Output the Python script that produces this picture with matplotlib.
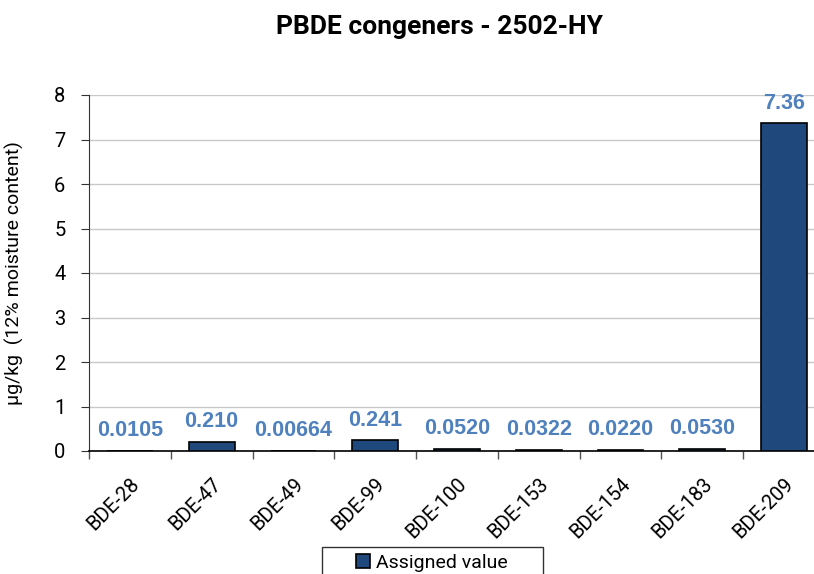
import matplotlib
matplotlib.use("Agg")
import matplotlib.pyplot as plt
import numpy as np
from matplotlib.ticker import FixedLocator
from matplotlib.patches import Rectangle

categories = ["BDE-28", "BDE-47", "BDE-49", "BDE-99", "BDE-100", "BDE-153", "BDE-154", "BDE-183", "BDE-209"]
values = [0.0105, 0.210, 0.00664, 0.241, 0.0520, 0.0322, 0.0220, 0.0530, 7.36]
labels = ["0.0105", "0.210", "0.00664", "0.241", "0.0520", "0.0322", "0.0220", "0.0530", "7.36"]
yticks = [0, 1, 2, 3, 4, 5, 6, 7, 8]

plt.rcParams['font.family'] = ['Roboto', 'DejaVu Sans']

fig = plt.figure(figsize=(8.14, 5.74), dpi=100)
ax = fig.add_axes([89/814, 123/574, 736/814, 356/574])

x = np.arange(len(categories))
bars = ax.bar(x, values, width=0.56, color="#1F497D", edgecolor="black", linewidth=1.2, zorder=3,
              label="Assigned value")

for xi, v, lab in zip(x, values, labels):
    ax.annotate(lab, (xi, v), xytext=(0, 7), textcoords="offset points", ha="center", va="bottom",
                color="#4F81BD", fontsize=15.5, fontweight="bold", family=["Liberation Sans", "DejaVu Sans"],
                zorder=4)

ax.set_xlim(-0.5, len(categories) - 0.5)
ax.set_ylim(0, 8)
ax.set_yticks(yticks)
ax.set_yticklabels([str(t) for t in yticks], fontsize=14.5)
ax.yaxis.grid(True, color="#c8c8c8", linewidth=1, zorder=0)
ax.set_axisbelow(True)

ax.set_xticks(x)
ax.set_xticklabels(categories, rotation=45, ha="right", rotation_mode="anchor", fontsize=14.5)
ax.tick_params(axis="x", which="major", length=0, pad=17)
ax.xaxis.set_minor_locator(FixedLocator(np.arange(-0.5, len(categories), 1.0)))
ax.tick_params(axis="x", which="minor", length=6, color="#555555", width=1)
ax.tick_params(axis="y", length=6, color="#333333", pad=11)

for s in ["top", "right"]:
    ax.spines[s].set_visible(False)
ax.spines["left"].set_color("#333333")
ax.spines["bottom"].set_color("black")
ax.spines["bottom"].set_linewidth(1.2)

ax.set_ylabel("µg/kg  (12% moisture content)", fontsize=14)
ax.yaxis.set_label_coords(-0.088, 0.5)

fig.text(439/814, 1 - 27/574, "PBDE congeners - 2502-HY", ha="center", va="center",
         fontsize=19, fontweight="bold")

# legend frame (extends beyond bottom edge as in the reference)
fig.patches.append(Rectangle((322/814, -0.02), (543-322)/814, (0.02 + 27/574), transform=fig.transFigure,
                             facecolor="white", edgecolor="#333333", linewidth=1.0))
leg = fig.legend(handles=[bars], labels=["Assigned value"], loc="center",
                 bbox_to_anchor=(432/814, 1 - 563/574), fontsize=14, frameon=False,
                 handlelength=0.7, handleheight=0.7, handletextpad=0.3, borderpad=0, borderaxespad=0)

fig.savefig("out.png", dpi=100)
